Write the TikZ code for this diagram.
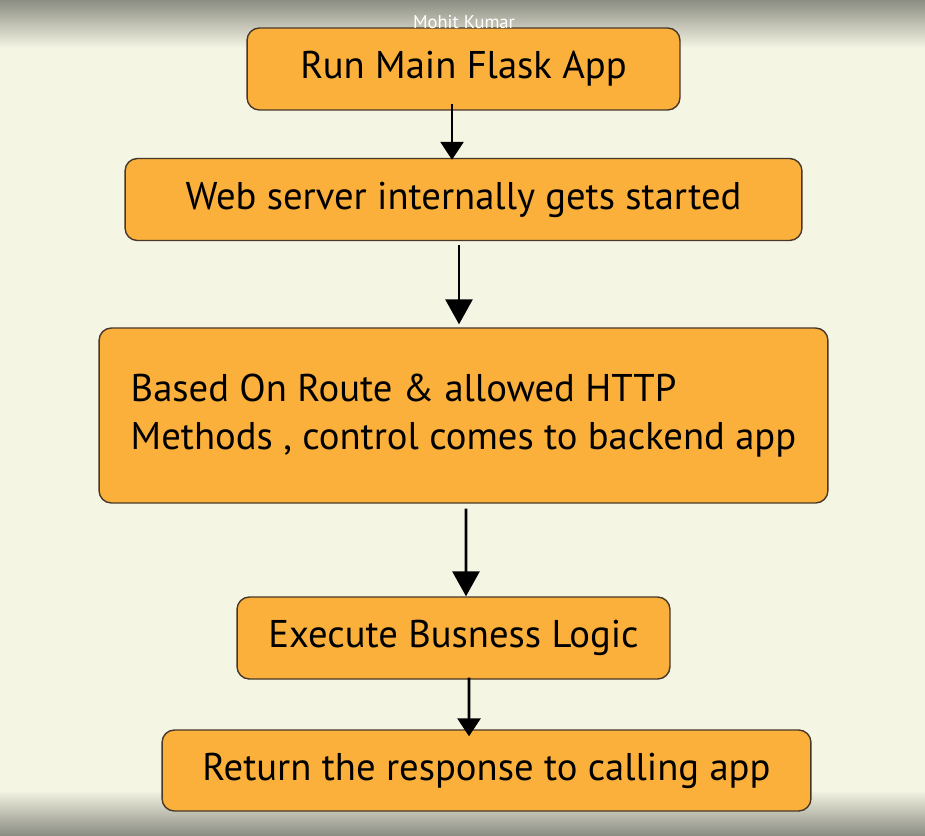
\documentclass[tikz,border=0pt]{standalone}
\usepackage{fontspec}
\setmainfont{PT Sans}
\usetikzlibrary{arrows.meta, positioning}

\definecolor{cream}{RGB}{245,245,228}
\definecolor{edgegray}{RGB}{140,141,131}
\definecolor{boxorange}{RGB}{251,176,59}
\definecolor{boxline}{RGB}{70,55,40}

\begin{document}
\begin{tikzpicture}[
    x=0.02cm, y=-0.02cm,
    stepbox/.style={
        draw=boxline,
        fill=boxorange,
        line width=0.8pt,
        rounded corners=7pt,
        minimum height=1.64cm,
        inner sep=0pt,
        align=center,
        font=\fontsize{22}{27}\selectfont
    },
    flow/.style={
        line width=1.6pt,
        -{Triangle[width=0.54cm,length=0.5cm]}
    },
    smallflow/.style={
        line width=1.6pt,
        -{Triangle[width=0.46cm,length=0.36cm]}
    }
]
    \useasboundingbox (0,0) rectangle (925,835);

    % Background
    \fill[cream] (0,0) rectangle (925,835);
    \shade[top color=edgegray, bottom color=cream] (0,0) rectangle (925,48);
    \shade[top color=cream, bottom color=edgegray] (0,790) rectangle (925,835);

    % Steps
    \node[stepbox, minimum width=8.66cm] (run) at (463.5,69) {Run Main Flask App};
    \node[stepbox, minimum width=13.54cm] (server) at (463.5,199.5) {Web server internally gets started};
    \node[stepbox, minimum width=14.58cm, minimum height=3.5cm, align=left] (route) at (463.5,415.5)
        {Based On Route \& allowed HTTP\\Methods , control comes to backend app};
    \node[stepbox, minimum width=8.66cm] (logic) at (453.5,638) {Execute Busness Logic};
    \node[stepbox, minimum width=12.98cm, minimum height=1.62cm] (response) at (486.5,770.5) {Return the response to calling app};

    % Watermark
    \node[font=\fontsize{10.5}{12}\selectfont, text=white] (author) at (464,22) {Mohit Kumar};

    % Connections
    \draw[smallflow] ([xshift=-0.23cm, yshift=0.14cm]run.south) -- ([xshift=-0.23cm, yshift=-0.04cm]server.north);
    \draw[flow] ([xshift=-0.09cm, yshift=-0.08cm]server.south) -- ([xshift=-0.09cm, yshift=0.06cm]route.north);
    \draw[flow] ([xshift=0.05cm, yshift=-0.1cm]route.south) -- ([xshift=0.25cm]logic.north);
    \draw[smallflow] ([xshift=0.31cm, yshift=0.04cm]logic.south) -- ([xshift=-0.35cm, yshift=-0.14cm]response.north);

\end{tikzpicture}
\end{document}
